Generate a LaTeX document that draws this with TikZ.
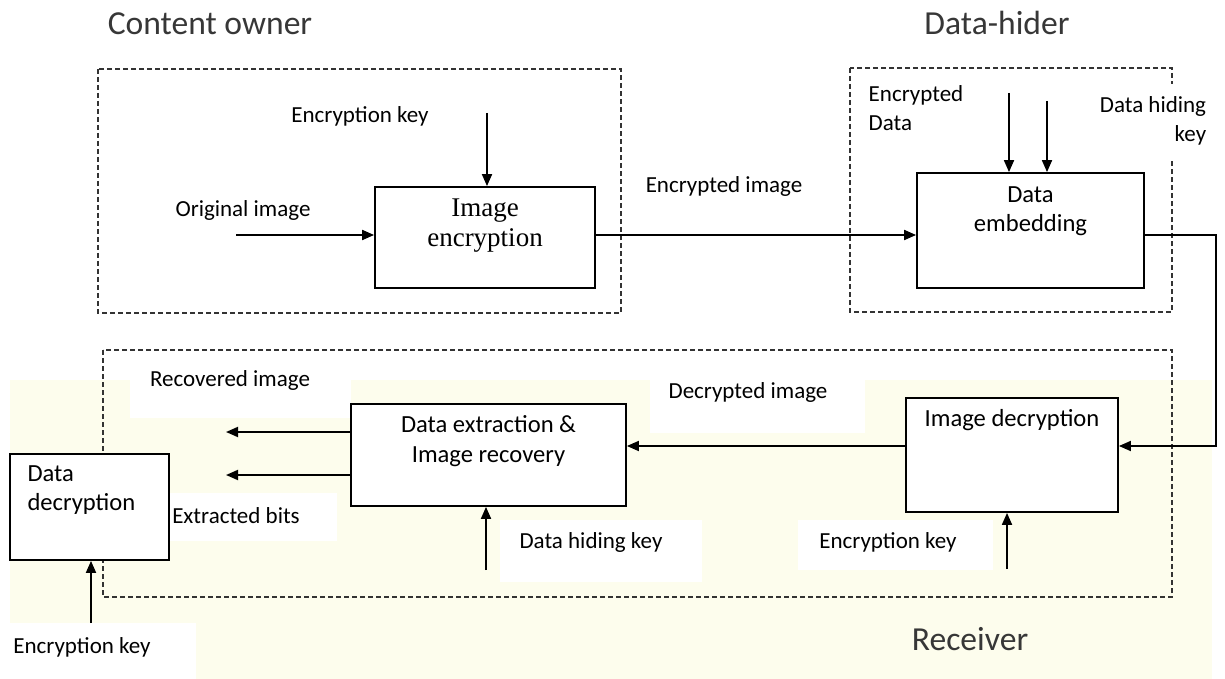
\documentclass[tikz,border=0pt]{standalone}
\usepackage{fontspec}
\setmainfont{Carlito}
\newfontfamily\camfont{Liberation Serif}
\usepackage{tikz}
\usetikzlibrary{positioning, arrows.meta}
\definecolor{paleyellow}{RGB}{253,253,237}
\definecolor{titlegray}{RGB}{55,55,55}

\begin{document}
\begin{tikzpicture}[x=0.5pt, y=-0.5pt,
    block/.style={draw, line width=0.9pt, fill=white, inner sep=0pt},
    blocktxt/.style={inner sep=0pt, align=center, font=\fontsize{12.3}{14.75}\selectfont},
    lbl/.style={fill=white, inner xsep=8pt, inner ysep=6pt, font=\fontsize{11.5}{14.75}\selectfont},
    lblbg/.style={fill=white},
    title/.style={text=titlegray, inner sep=0pt, font=\fontsize{16.8}{20}\selectfont},
    group/.style={draw=black!80, line width=0.9pt, dash pattern=on 2.6pt off 1.4pt},
    arr/.style={line width=0.9pt, -{Triangle[length=6pt, width=5pt]}}]
    \useasboundingbox (0,0) rectangle (1225,679);
    \fill[paleyellow] (10,380) rectangle (1212,679);

    % Dashed frames
    \draw[group] (98,69) rectangle (621,313);
    \draw[group] (850,68) rectangle (1172,312);
    \draw[group] (103,350) rectangle (1172,597);

    % Text box backgrounds
    \fill[lblbg] (130,358) rectangle (351,418);
    \fill[lblbg] (169,493) rectangle (337,541);
    \fill[lblbg] (500,520) rectangle (702,582);
    \fill[lblbg] (650,367) rectangle (865,433);
    \fill[lblbg] (798,520) rectangle (993,570);
    \fill[lblbg] (0,623) rectangle (196,679);

    % Titles
    \node[title, anchor=base] (owner) at (210,35) {Content owner};
    \node[title, anchor=base] (hider) at (997,35) {Data-hider};
    \node[title, anchor=base] (receiver) at (970,650) {Receiver};

    % Labels
    \node[lbl, anchor=base] (enckey1) at (360,123) {Encryption key};
    \node[lbl, anchor=base] (origimg) at (243,217) {Original image};
    \node[lbl, anchor=base] (encimg) at (724,193) {Encrypted image};
    \node[lbl, align=left, inner xsep=9pt] (encdata) at (916,108) {Encrypted\\Data};
    \node[lbl, align=right] (dhkey1) at (1153,121) {Data hiding\\key};
    \node[lbl, anchor=base, inner sep=0pt] (recimg) at (230,386) {Recovered image};
    \node[lbl, anchor=base, inner sep=0pt] (extbits) at (236,523) {Extracted bits};
    \node[lbl, anchor=base, inner sep=0pt] (dhkey2) at (591,548) {Data hiding key};
    \node[lbl, anchor=base, inner sep=0pt] (decimg) at (748,398) {Decrypted image};
    \node[lbl, anchor=base, inner sep=0pt] (enckey2) at (888,548) {Encryption key};
    \node[lbl, anchor=base, inner sep=0pt] (enckey3) at (82,653) {Encryption key};

    % Blocks
    \node[block, minimum width=110pt, minimum height=50.5pt] (enc) at (485,237.5) {};
    \node[blocktxt, font=\camfont\fontsize{13.5}{15}\selectfont, below=6pt of enc.north] (enctxt) {Image\\encryption};
    \node[block, minimum width=113.5pt, minimum height=57.5pt] (emb) at (1030.5,230.5) {};
    \node[blocktxt, below=7pt of emb.north] (embtxt) {Data\\embedding};
    \node[block, minimum width=106pt, minimum height=57pt] (dec) at (1012,455) {};
    \node[blocktxt, below=6pt of dec.north] (dectxt) {Image decryption};
    \node[block, minimum width=137.5pt, minimum height=51pt] (ext) at (488.5,455) {};
    \node[blocktxt, below=6pt of ext.north] (exttxt) {Data extraction \&\\Image recovery};
    \node[block, minimum width=79.5pt, minimum height=53pt] (ddec) at (89.5,507) {};
    \node[blocktxt, align=left, below right=6pt and 9pt of ddec.north west] (ddectxt) {Data\\decryption};

    % Free ends of the connectors
    \coordinate (origin) at (236,235);
    \coordinate (keyin) at (487,113);
    \coordinate (edin) at (1009,93);
    \coordinate (hkin) at (1047,101);
    \coordinate (turn) at (1216,446);
    \coordinate (recout) at (226,432);
    \coordinate (bitout) at (226,475);
    \coordinate (hkup) at (486,570);
    \coordinate (keyup) at (1007,569);
    \coordinate (keyddec) at (91,623);

    % Connectors
    \draw[arr] (origin) -- (origin -| enc.west);
    \draw[arr] (keyin) -- (keyin |- enc.north);
    \draw[arr] (origin -| enc.east) -- (origin -| emb.west);
    \draw[arr] (edin) -- (edin |- emb.north);
    \draw[arr] (hkin) -- (hkin |- emb.north);
    \draw[arr] (origin -| emb.east) -- (origin -| turn) -- (turn) -- (turn -| dec.east);
    \draw[arr] (turn -| dec.west) -- (turn -| ext.east);
    \draw[arr] (recout -| ext.west) -- (recout);
    \draw[arr] (bitout -| ext.west) -- (bitout);
    \draw[arr] (hkup) -- (hkup |- ext.south);
    \draw[arr] (keyup) -- (keyup |- dec.south);
    \draw[arr] (keyddec) -- (keyddec |- ddec.south);
\end{tikzpicture}
\end{document}
